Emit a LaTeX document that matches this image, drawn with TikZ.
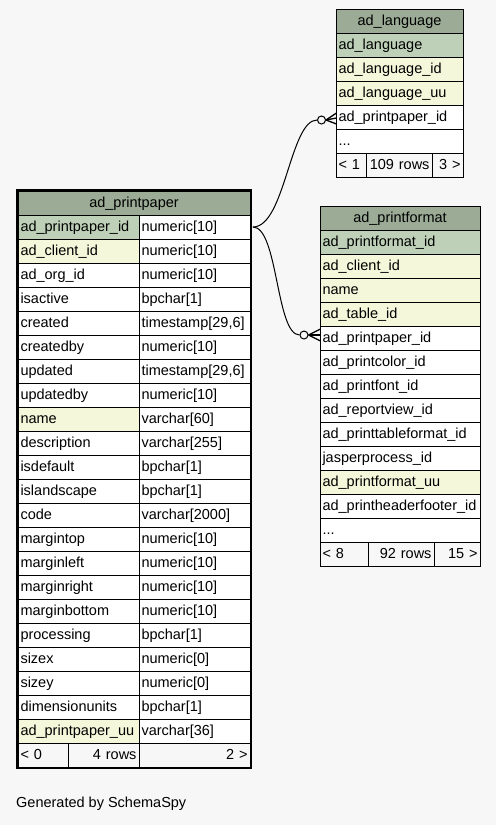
\documentclass[tikz,border=0pt]{standalone}
\usepackage{fontspec}
\setmainfont{Liberation Sans}
\usetikzlibrary{calc}
\definecolor{bg}{HTML}{F7F7F7}
\definecolor{hdr}{HTML}{9BAB96}
\definecolor{pk}{HTML}{BED1B8}
\definecolor{ix}{HTML}{F4F7DA}
\definecolor{wh}{HTML}{FFFFFF}
\newcommand\tcell[7]{\pgfmathsetmacro\cw{#3-#2-5}\node[cellst,fill=#5,text width=\cw pt,align=#6] (#1) at ({(#2+#3)/2},{#4+12}) {\mbox{#7}};}
\begin{document}
\begin{tikzpicture}[x=1pt,y=-1pt,
  cellst/.style={draw=black, line width=0.9pt, inner xsep=2.5pt, inner ysep=0pt, minimum height=24pt, text height=11.5pt, text depth=2.5pt, font=\fontsize{14.5}{16}\selectfont},
  conn/.style={draw=black, line width=1pt},
  odot/.style={circle, draw=black, fill=bg, minimum size=8pt, inner sep=0pt, line width=1pt}]
\fill[bg] (0,0) rectangle (496,825);
\useasboundingbox (0,0) rectangle (496,825);
% ad_language
\tcell{lgh}{336}{463}{9}{hdr}{center}{ad\_language}
\tcell{lg1}{336}{463}{33}{pk}{left}{ad\_language}
\tcell{lg2}{336}{463}{57}{ix}{left}{ad\_language\_id}
\tcell{lg3}{336}{463}{81}{ix}{left}{ad\_language\_uu}
\tcell{lg4}{336}{463}{105}{wh}{left}{ad\_printpaper\_id}
\tcell{lg5}{336}{463}{129}{wh}{left}{...}
\tcell{lgf1}{336}{366}{153}{bg}{left}{< 1}
\tcell{lgf2}{366}{432}{153}{bg}{right}{109 rows}
\tcell{lgf3}{432}{463}{153}{bg}{right}{3 >}
% ad_printformat
\tcell{pfh}{320}{480}{206}{hdr}{center}{ad\_printformat}
\tcell{pf1}{320}{480}{230}{pk}{left}{ad\_printformat\_id}
\tcell{pf2}{320}{480}{254}{ix}{left}{ad\_client\_id}
\tcell{pf3}{320}{480}{278}{ix}{left}{name}
\tcell{pf4}{320}{480}{302}{ix}{left}{ad\_table\_id}
\tcell{pf5}{320}{480}{326}{wh}{left}{ad\_printpaper\_id}
\tcell{pf6}{320}{480}{350}{wh}{left}{ad\_printcolor\_id}
\tcell{pf7}{320}{480}{374}{wh}{left}{ad\_printfont\_id}
\tcell{pf8}{320}{480}{398}{wh}{left}{ad\_reportview\_id}
\tcell{pf9}{320}{480}{422}{wh}{left}{ad\_printtableformat\_id}
\tcell{pf10}{320}{480}{446}{wh}{left}{jasperprocess\_id}
\tcell{pf11}{320}{480}{470}{ix}{left}{ad\_printformat\_uu}
\tcell{pf12}{320}{480}{494}{wh}{left}{ad\_printheaderfooter\_id}
\tcell{pf13}{320}{480}{518}{wh}{left}{...}
\tcell{pff1}{320}{368}{542}{bg}{left}{< 8}
\tcell{pff2}{368}{434}{542}{bg}{right}{92 rows}
\tcell{pff3}{434}{480}{542}{bg}{right}{15 >}
% ad_printpaper
\tcell{pph}{18}{250}{191}{hdr}{center}{ad\_printpaper}
\tcell{pp1l}{18}{139}{215}{pk}{left}{ad\_printpaper\_id}
\tcell{pp1r}{139}{250}{215}{wh}{left}{numeric[10]}
\tcell{pp2l}{18}{139}{239}{ix}{left}{ad\_client\_id}
\tcell{pp2r}{139}{250}{239}{wh}{left}{numeric[10]}
\tcell{pp3l}{18}{139}{263}{wh}{left}{ad\_org\_id}
\tcell{pp3r}{139}{250}{263}{wh}{left}{numeric[10]}
\tcell{pp4l}{18}{139}{287}{wh}{left}{isactive}
\tcell{pp4r}{139}{250}{287}{wh}{left}{bpchar[1]}
\tcell{pp5l}{18}{139}{311}{wh}{left}{created}
\tcell{pp5r}{139}{250}{311}{wh}{left}{timestamp[29,6]}
\tcell{pp6l}{18}{139}{335}{wh}{left}{createdby}
\tcell{pp6r}{139}{250}{335}{wh}{left}{numeric[10]}
\tcell{pp7l}{18}{139}{359}{wh}{left}{updated}
\tcell{pp7r}{139}{250}{359}{wh}{left}{timestamp[29,6]}
\tcell{pp8l}{18}{139}{383}{wh}{left}{updatedby}
\tcell{pp8r}{139}{250}{383}{wh}{left}{numeric[10]}
\tcell{pp9l}{18}{139}{407}{ix}{left}{name}
\tcell{pp9r}{139}{250}{407}{wh}{left}{varchar[60]}
\tcell{pp10l}{18}{139}{431}{wh}{left}{description}
\tcell{pp10r}{139}{250}{431}{wh}{left}{varchar[255]}
\tcell{pp11l}{18}{139}{455}{wh}{left}{isdefault}
\tcell{pp11r}{139}{250}{455}{wh}{left}{bpchar[1]}
\tcell{pp12l}{18}{139}{479}{wh}{left}{islandscape}
\tcell{pp12r}{139}{250}{479}{wh}{left}{bpchar[1]}
\tcell{pp13l}{18}{139}{503}{wh}{left}{code}
\tcell{pp13r}{139}{250}{503}{wh}{left}{varchar[2000]}
\tcell{pp14l}{18}{139}{527}{wh}{left}{margintop}
\tcell{pp14r}{139}{250}{527}{wh}{left}{numeric[10]}
\tcell{pp15l}{18}{139}{551}{wh}{left}{marginleft}
\tcell{pp15r}{139}{250}{551}{wh}{left}{numeric[10]}
\tcell{pp16l}{18}{139}{575}{wh}{left}{marginright}
\tcell{pp16r}{139}{250}{575}{wh}{left}{numeric[10]}
\tcell{pp17l}{18}{139}{599}{wh}{left}{marginbottom}
\tcell{pp17r}{139}{250}{599}{wh}{left}{numeric[10]}
\tcell{pp18l}{18}{139}{623}{wh}{left}{processing}
\tcell{pp18r}{139}{250}{623}{wh}{left}{bpchar[1]}
\tcell{pp19l}{18}{139}{647}{wh}{left}{sizex}
\tcell{pp19r}{139}{250}{647}{wh}{left}{numeric[0]}
\tcell{pp20l}{18}{139}{671}{wh}{left}{sizey}
\tcell{pp20r}{139}{250}{671}{wh}{left}{numeric[0]}
\tcell{pp21l}{18}{139}{695}{wh}{left}{dimensionunits}
\tcell{pp21r}{139}{250}{695}{wh}{left}{bpchar[1]}
\tcell{pp22l}{18}{139}{719}{ix}{left}{ad\_printpaper\_uu}
\tcell{pp22r}{139}{250}{719}{wh}{left}{varchar[36]}
\tcell{ppf1}{18}{68}{743}{bg}{left}{< 0}
\tcell{ppf2}{68}{139}{743}{bg}{right}{4 rows}
\tcell{ppf3}{139}{250}{743}{bg}{right}{2 >}
\draw[line width=2.6pt] (17,190) rectangle (251,768);
% footer text
\node[anchor=west, inner sep=0pt, font=\fontsize{14.5}{16}\selectfont] (gen) at (16,804) {Generated by SchemaSpy};
% connectors
\coordinate (ppport) at ($(pp1r.east)+(2.5,0)$);
\node[odot] (o1) at (321.5,120) {};
\node[odot] (o2) at (304,335) {};
\draw[conn] (ppport) .. controls (285,227) and (290,120) .. (o1.west);
\draw[conn] (ppport) .. controls (278,227) and (276,335) .. (o2.west);
\draw[conn, line width=1.3pt] (o1.east) -- ($(o1.east)+(10.5,-7)$);
\draw[conn, line width=1.3pt] (o1.east) -- ($(o1.east)+(10.5,-2)$);
\draw[conn, line width=1.3pt] (o1.east) -- ($(o1.east)+(10.5,4)$);
\draw[conn, line width=1.3pt] (o2.east) -- ($(o2.east)+(12,-6)$);
\draw[conn, line width=1.3pt] (o2.east) -- ($(o2.east)+(12,0)$);
\draw[conn, line width=1.3pt] (o2.east) -- ($(o2.east)+(12,6)$);
\end{tikzpicture}
\end{document}
